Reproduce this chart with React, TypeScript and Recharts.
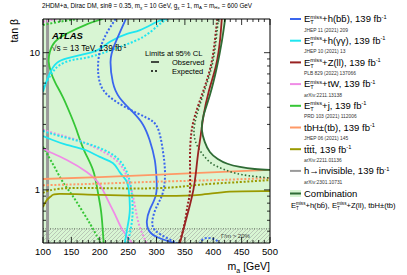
import React from 'react';
import { ComposedChart, Line, Area, XAxis, YAxis, CartesianGrid } from 'recharts';

// axis ranges (m_a in GeV, tan beta)
const mARange = [100, 500];
const tanBRange = [0.41, 17.6];

const xTicks = [
  100, 110, 120, 130, 140, 150, 160, 170, 180, 190, 200, 210, 220, 230, 240, 250, 260, 270, 280, 290,
  300, 310, 320, 330, 340, 350, 360, 370, 380, 390, 400, 410, 420, 430, 440, 450, 460, 470, 480, 490, 500,
];
const xLabels = [100, 150, 200, 250, 300, 350, 400, 450, 500];
const yTicks = [0.5, 0.6, 0.7, 0.8, 0.9, 1, 2, 3, 4, 5, 6, 7, 8, 9, 10];
const yLabels = [1, 10];

// E_T^miss + h(bb)
const hbbObs = [
  { x: 246, y: 17.6 }, { x: 226, y: 11.4 }, { x: 219, y: 8.6 }, { x: 223, y: 6.1 }, { x: 235, y: 4.7 },
  { x: 258, y: 3.7 }, { x: 276, y: 3.0 }, { x: 288, y: 2.3 }, { x: 297, y: 1.65 }, { x: 300, y: 1.22 },
  { x: 299, y: 0.92 }, { x: 288, y: 0.715 }, { x: 283, y: 0.59 }, { x: 286, y: 0.51 }, { x: 300, y: 0.455 },
  { x: 323, y: 0.42 }, { x: 334, y: 0.405 },
];
const hbbExp = [
  { x: 228, y: 17.6 }, { x: 205, y: 12 }, { x: 197, y: 8.1 }, { x: 200, y: 6.1 }, { x: 214, y: 4.9 },
  { x: 248, y: 3.95 }, { x: 283, y: 3.35 }, { x: 302, y: 2.83 }, { x: 311, y: 1.96 }, { x: 315, y: 1.33 },
  { x: 311, y: 0.95 }, { x: 300, y: 0.75 }, { x: 293, y: 0.605 }, { x: 297, y: 0.51 }, { x: 318, y: 0.447 },
  { x: 338, y: 0.405 },
];
const hbbExpLow = [
  { x: 376, y: 0.405 }, { x: 383, y: 0.44 }, { x: 394, y: 0.445 }, { x: 405, y: 0.43 }, { x: 412, y: 0.405 },
];

// E_T^miss + h(gamma gamma)
const hyyObsTop = [
  { x: 315, y: 17.6 }, { x: 301, y: 16.8 }, { x: 271, y: 14.6 }, { x: 248, y: 13.7 }, { x: 218, y: 12.0 },
  { x: 195, y: 10.4 }, { x: 165, y: 9.6 }, { x: 142, y: 9.1 }, { x: 124, y: 8.4 }, { x: 112, y: 7.1 },
  { x: 105, y: 6.0 }, { x: 100, y: 5.2 },
];
const hyyExpTop = [
  { x: 319, y: 17.6 }, { x: 302, y: 15.7 }, { x: 276, y: 13.0 }, { x: 230, y: 10.8 }, { x: 182, y: 9.3 },
  { x: 152, y: 8.85 }, { x: 129, y: 8.1 }, { x: 117, y: 7.2 }, { x: 108, y: 6.3 }, { x: 100, y: 5.5 },
];
const hyyObsLow = [
  { x: 100, y: 2.47 }, { x: 117, y: 2.31 }, { x: 142, y: 2.13 }, { x: 174, y: 1.96 }, { x: 200, y: 1.74 },
  { x: 223, y: 1.57 }, { x: 235, y: 1.35 }, { x: 246, y: 1.18 }, { x: 251, y: 1.0 }, { x: 253, y: 0.715 },
  { x: 249, y: 0.54 }, { x: 244, y: 0.405 },
];
const hyyExpLow = [
  { x: 100, y: 2.69 }, { x: 129, y: 2.47 }, { x: 174, y: 2.2 }, { x: 218, y: 1.86 }, { x: 241, y: 1.52 },
  { x: 251, y: 1.24 }, { x: 256, y: 0.97 }, { x: 258, y: 0.7 }, { x: 255, y: 0.53 }, { x: 249, y: 0.405 },
];

// E_T^miss + j
const monojetObs = [
  { x: 205, y: 17.6 }, { x: 174, y: 15.9 }, { x: 144, y: 13.9 }, { x: 121, y: 12.0 }, { x: 112, y: 10.1 },
  { x: 110, y: 8.6 }, { x: 114, y: 7.2 }, { x: 122, y: 6.0 }, { x: 135, y: 4.75 }, { x: 149, y: 3.5 },
  { x: 159, y: 2.74 }, { x: 172, y: 1.96 }, { x: 188, y: 1.4 }, { x: 196, y: 1.0 }, { x: 202, y: 0.715 },
  { x: 205, y: 0.53 }, { x: 207, y: 0.405 },
];
const monojetExpTop = [{ x: 100, y: 15.9 }, { x: 129, y: 16.8 }, { x: 161, y: 17.6 }];
const monojetExpLow = [
  { x: 100, y: 2.06 }, { x: 108, y: 1.8 }, { x: 121, y: 1.45 }, { x: 135, y: 1.14 }, { x: 151, y: 0.92 },
  { x: 168, y: 0.715 }, { x: 184, y: 0.556 }, { x: 195, y: 0.46 }, { x: 202, y: 0.405 },
];

// E_T^miss + tW
const tWObs = [
  { x: 100, y: 2.0 }, { x: 112, y: 1.89 }, { x: 142, y: 1.65 }, { x: 177, y: 1.35 }, { x: 200, y: 1.09 },
  { x: 214, y: 0.846 }, { x: 227, y: 0.66 }, { x: 239, y: 0.52 }, { x: 258, y: 0.405 },
];
const tWExpTop = [{ x: 100, y: 16.8 }, { x: 115, y: 17.3 }, { x: 126, y: 17.6 }];
const tWExpLow = [
  { x: 100, y: 2.74 }, { x: 129, y: 2.52 }, { x: 165, y: 2.27 }, { x: 200, y: 1.96 }, { x: 232, y: 1.6 },
  { x: 249, y: 1.22 }, { x: 258, y: 0.92 }, { x: 264, y: 0.69 }, { x: 271, y: 0.53 }, { x: 283, y: 0.405 },
];

// tbH+-(tb)
const tbHObs = [
  { x: 100, y: 1.2 }, { x: 200, y: 1.24 }, { x: 306, y: 1.29 }, { x: 376, y: 1.33 }, { x: 447, y: 1.37 },
  { x: 500, y: 1.4 },
];
const tbHExp = [{ x: 100, y: 1.08 }, { x: 200, y: 1.11 }, { x: 306, y: 1.15 }, { x: 412, y: 1.18 }, { x: 500, y: 1.22 }];

// four tops
const ttttObs = [
  { x: 100, y: 0.75 }, { x: 107, y: 0.846 }, { x: 115, y: 0.905 }, { x: 129, y: 0.935 }, { x: 200, y: 0.92 },
  { x: 306, y: 0.905 }, { x: 376, y: 0.92 }, { x: 429, y: 0.97 }, { x: 500, y: 0.98 },
];
const ttttExp = [
  { x: 100, y: 0.95 }, { x: 129, y: 1.02 }, { x: 200, y: 1.03 }, { x: 306, y: 1.03 }, { x: 376, y: 1.09 },
  { x: 447, y: 1.14 }, { x: 500, y: 1.18 },
];

// E_T^miss + Z(ll)
const zllObs = [
  { x: 415, y: 17.6 }, { x: 412, y: 12.4 }, { x: 405, y: 8.1 }, { x: 392, y: 5.2 }, { x: 383, y: 3.5 },
  { x: 378, y: 2.52 }, { x: 373, y: 1.8 }, { x: 369, y: 1.29 }, { x: 365, y: 1.0 }, { x: 359, y: 0.78 },
  { x: 352, y: 0.605 }, { x: 345, y: 0.47 }, { x: 341, y: 0.405 },
];
const zllExp = [
  { x: 407, y: 17.6 }, { x: 403, y: 12.4 }, { x: 396, y: 8.1 }, { x: 382, y: 5.2 }, { x: 368, y: 3.5 },
  { x: 361, y: 2.52 }, { x: 359, y: 1.65 }, { x: 359, y: 1.0 }, { x: 355, y: 0.78 }, { x: 350, y: 0.585 },
  { x: 343, y: 0.447 }, { x: 339, y: 0.405 },
];

// combination
const combObs = [
  { x: 421, y: 17.6 }, { x: 415, y: 12 }, { x: 406, y: 7.7 }, { x: 394, y: 4.9 }, { x: 383, y: 3.5 },
  { x: 380, y: 2.74 }, { x: 385, y: 2.24 }, { x: 394, y: 1.89 }, { x: 408, y: 1.68 }, { x: 425, y: 1.55 },
  { x: 447, y: 1.47 }, { x: 473, y: 1.42 }, { x: 500, y: 1.4 },
];
const combExp = [
  { x: 409, y: 17.6 }, { x: 405, y: 12.4 }, { x: 398, y: 8.1 }, { x: 384, y: 5.2 }, { x: 371, y: 3.5 },
  { x: 366, y: 2.65 }, { x: 371, y: 2.13 }, { x: 382, y: 1.8 }, { x: 398, y: 1.55 }, { x: 421, y: 1.4 },
  { x: 451, y: 1.29 }, { x: 500, y: 1.22 },
];

// h -> invisible (m_a independent) and the width > 20% band
const hInv = [{ x: 108, y: 0.41 }, { x: 108, y: 17.6 }];
const widthLimit = [{ x: 100, y: 0.52 }, { x: 500, y: 0.52 }];

const legendItems = [
  { met: true, proc: '+h(bb\u0304)', ref: 'JHEP 11 (2021) 209', color: '#3a66ee' },
  { met: true, proc: '+h(\u03b3\u03b3)', ref: 'JHEP 10 (2021) 13', color: '#1fe6f0' },
  { met: true, proc: '+Z(ll)', ref: 'PLB 829 (2022) 137066', color: '#982222' },
  { met: true, proc: '+tW', ref: 'arXiv:2211.13138', color: '#f08ce6' },
  { met: true, proc: '+j', ref: 'PRD 103 (2021) 112006', color: '#36c636' },
  { met: false, proc: 'tbH\u00b1(tb)', ref: 'JHEP 06 (2021) 145', color: '#ff9966' },
  { met: false, proc: 'tt\u0304tt\u0304', ref: 'arXiv:2211.01136', color: '#9a9a00' },
  { met: false, proc: 'h\u2192invisible', ref: 'arXiv:2301.10731', color: '#9a9a9a' },
];

const FONT = '"Liberation Sans", Arial, Helvetica, sans-serif';
const C = {
  hbb: '#3a66ee', hyy: '#1fe6f0', zll: '#982222', tW: '#f08ce6', mj: '#36c636',
  tbH: '#ff9966', tttt: '#9a9a00', inv: '#9a9a9a', comb: '#2f6b35', fill: '#d8f5d3',
};
const DASH = '2 1.8';

const BottomTick = (p: any) => {
  const v = p.payload.value;
  const major = xLabels.includes(v);
  return (
    <g>
      <line x1={p.x} x2={p.x} y1={p.y} y2={p.y - (major ? 6 : 3)} stroke="#000" strokeWidth={0.8} />
      {major && (
        <text x={p.x} y={p.y + 12} textAnchor="middle" fontSize={9.5} fill="#000" fontFamily={FONT}>{v}</text>
      )}
    </g>
  );
};
const TopTick = (p: any) => {
  const major = xLabels.includes(p.payload.value);
  return <line x1={p.x} x2={p.x} y1={p.y} y2={p.y + (major ? 6 : 3)} stroke="#000" strokeWidth={0.8} />;
};
const LeftTick = (p: any) => {
  const v = p.payload.value;
  const major = yLabels.includes(v);
  return (
    <g>
      <line x1={p.x} x2={p.x + (major ? 6 : 3)} y1={p.y} y2={p.y} stroke="#000" strokeWidth={0.8} />
      {major && (
        <text x={p.x - 3} y={p.y + 3.4} textAnchor="end" fontSize={9.5} fill="#000" fontFamily={FONT}>{v}</text>
      )}
    </g>
  );
};
const RightTick = (p: any) => {
  const major = yLabels.includes(p.payload.value);
  return <line x1={p.x} x2={p.x - (major ? 6 : 3)} y1={p.y} y2={p.y} stroke="#000" strokeWidth={0.8} />;
};

function MetText({ x, y, fs, rest, fb }: { x: number; y: number; fs: number; rest: string; fb?: boolean }) {
  const s = fs * 0.6;
  const ex = x + fs * 0.667;
  return (
    <g>
      <text x={x} y={y} fontSize={fs}>E</text>
      <text x={ex} y={y - fs * 0.4} fontSize={s}>miss</text>
      <text x={ex} y={y + fs * 0.22} fontSize={s}>T</text>
      <text x={ex + s * 2.06} y={y} fontSize={fs}>
        {rest}
        {fb && <tspan>, 139 fb</tspan>}
        {fb && <tspan dy={-fs * 0.38} fontSize={s}>-1</tspan>}
      </text>
    </g>
  );
}

const lineProps = { dot: false, activeDot: false, isAnimationActive: false, dataKey: 'y', type: 'natural' as const };
const axisLine = { stroke: '#000', strokeWidth: 1 };

export default function App() {
  return (
    <div style={{ position: 'absolute', left: 0, top: 0, width: 407, height: 275, background: '#fff', fontFamily: FONT }}>
      <ComposedChart width={407} height={275} margin={{ top: 18, right: 136, bottom: 0, left: 0 }}>
        <CartesianGrid horizontal={false} vertical={false} fill={C.fill} fillOpacity={1} />
        <XAxis type="number" dataKey="x" domain={mARange} ticks={xTicks} interval={0} allowDataOverflow
          height={32} tickSize={0} tickMargin={0} tickLine={false} axisLine={axisLine} tick={BottomTick} />
        <XAxis xAxisId="top" orientation="top" type="number" dataKey="x" domain={mARange} ticks={xTicks} interval={0}
          allowDataOverflow height={1} tickSize={0} tickMargin={0} tickLine={false} axisLine={axisLine} tick={TopTick} />
        <YAxis type="number" scale="log" domain={tanBRange} ticks={yTicks} interval={0} allowDataOverflow
          width={43} tickSize={0} tickMargin={0} tickLine={false} axisLine={axisLine} tick={LeftTick} />
        <YAxis yAxisId="right" orientation="right" type="number" scale="log" domain={tanBRange} ticks={yTicks} interval={0}
          allowDataOverflow width={1} tickSize={0} tickMargin={0} tickLine={false} axisLine={axisLine} tick={RightTick} />

        {/* allowed region (white) above the combined observed contour */}
        <Area data={combObs} dataKey="y" type="natural" baseValue={tanBRange[1]} fill="#ffffff" fillOpacity={1}
          stroke="none" dot={false} activeDot={false} isAnimationActive={false} />
        {/* Gamma/m > 20% band */}
        <Area data={widthLimit} dataKey="y" type="linear" baseValue={tanBRange[0]} fill="url(#hatch)" fillOpacity={1}
          stroke="#000" strokeWidth={0.7} strokeDasharray="0.8 1.6" dot={false} activeDot={false} isAnimationActive={false} />

        <Line {...lineProps} data={hInv} type="linear" stroke={C.inv} strokeWidth={3} />

        <Line {...lineProps} data={monojetExpTop} stroke={C.mj} strokeWidth={2} strokeDasharray={DASH} />
        <Line {...lineProps} data={monojetExpLow} stroke={C.mj} strokeWidth={2} strokeDasharray={DASH} />
        <Line {...lineProps} data={monojetObs} stroke={C.mj} strokeWidth={1.8} />

        <Line {...lineProps} data={tWExpTop} stroke={C.tW} strokeWidth={2} strokeDasharray={DASH} />
        <Line {...lineProps} data={tWExpLow} stroke={C.tW} strokeWidth={2} strokeDasharray={DASH} />
        <Line {...lineProps} data={tWObs} stroke={C.tW} strokeWidth={1.8} />

        <Line {...lineProps} data={hyyExpTop} stroke={C.hyy} strokeWidth={2} strokeDasharray={DASH} />
        <Line {...lineProps} data={hyyExpLow} stroke={C.hyy} strokeWidth={2} strokeDasharray={DASH} />
        <Line {...lineProps} data={hyyObsTop} stroke={C.hyy} strokeWidth={1.8} />
        <Line {...lineProps} data={hyyObsLow} stroke={C.hyy} strokeWidth={1.8} />

        <Line {...lineProps} data={hbbExp} stroke={C.hbb} strokeWidth={2} strokeDasharray={DASH} />
        <Line {...lineProps} data={hbbExpLow} stroke={C.hbb} strokeWidth={2} strokeDasharray={DASH} />
        <Line {...lineProps} data={hbbObs} stroke={C.hbb} strokeWidth={1.8} />

        <Line {...lineProps} data={tbHExp} type="linear" stroke={C.tbH} strokeWidth={2} strokeDasharray={DASH} />
        <Line {...lineProps} data={tbHObs} type="linear" stroke={C.tbH} strokeWidth={1.8} />
        <Line {...lineProps} data={ttttExp} stroke={C.tttt} strokeWidth={2} strokeDasharray={DASH} />
        <Line {...lineProps} data={ttttObs} stroke={C.tttt} strokeWidth={1.8} />

        <Line {...lineProps} data={zllExp} stroke={C.zll} strokeWidth={2} strokeDasharray={DASH} />
        <Line {...lineProps} data={combExp} stroke={C.comb} strokeWidth={1.6} strokeDasharray="1.5 2.2" />
        <Line {...lineProps} data={zllObs} stroke={C.zll} strokeWidth={1.8} />
        <Line {...lineProps} data={combObs} stroke={C.comb} strokeWidth={1.8} />
      </ComposedChart>

      <svg width={407} height={275} style={{ position: 'absolute', left: 0, top: 0, pointerEvents: 'none' }}
        fontFamily={FONT} fill="#000">
        <defs>
          <pattern id="hatch" patternUnits="userSpaceOnUse" width={4} height={4}>
            <path d="M-1,1 L1,-1 M0,4 L4,0 M3,5 L5,3" stroke="#9a9a9a" strokeWidth={0.5} />
          </pattern>
        </defs>

        <text x={42} y={7.5} fontSize={6.3}>
          2HDM+a, Dirac DM, sinθ = 0.35, m<tspan dy={1.5} fontSize={4.4}>χ</tspan>
          <tspan dy={-1.5}> = 10 GeV, g</tspan><tspan dy={1.5} fontSize={4.4}>χ</tspan>
          <tspan dy={-1.5}> = 1, m</tspan><tspan dy={1.5} fontSize={4.4}>A</tspan>
          <tspan dy={-1.5}> = m</tspan><tspan dy={1.5} fontSize={4.4}>H±</tspan>
          <tspan dy={-1.5}> = 600 GeV</tspan>
        </text>

        <text transform="translate(17.5,19) rotate(-90)" textAnchor="end" fontSize={10.5}>tan β</text>
        <text x={270} y={270} textAnchor="end" fontSize={10.5}>
          m<tspan dy={2.5} fontSize={7}>a</tspan><tspan dy={-2.5}> [GeV]</tspan>
        </text>

        <text x={52} y={38.5} fontSize={9.5} fontWeight="bold" fontStyle="italic">ATLAS</text>
        <text x={52} y={50.5} fontSize={8.2}>
          √s = 13 TeV, 139 fb<tspan dy={-3} fontSize={5}>-1</tspan>
        </text>

        <text x={145} y={55.5} fontSize={7.6}>Limits at 95% CL</text>
        <line x1={151} x2={159} y1={62} y2={62} stroke="#000" strokeWidth={1.4} />
        <text x={172} y={64.6} fontSize={7.5}>Observed</text>
        <line x1={151} x2={159} y1={71} y2={71} stroke="#000" strokeWidth={1.4} strokeDasharray="2 2" />
        <text x={172} y={73.6} fontSize={7.5}>Expected</text>

        <text x={221} y={237.5} fontSize={6} fill="#333">Γ/m &gt; 20%</text>

        {legendItems.map((it, i) => {
          const cy = 19 + i * 21.7;
          return (
            <g key={it.ref}>
              <line x1={290} x2={301} y1={cy} y2={cy} stroke={it.color} strokeWidth={2} />
              {it.met ? (
                <MetText x={304} y={cy + 3.3} fs={9.5} rest={it.proc} fb />
              ) : (
                <text x={304} y={cy + 3.3} fontSize={9.5}>
                  {it.proc}, 139 fb<tspan dy={-3.6} fontSize={5.7}>-1</tspan>
                </text>
              )}
              <text x={304} y={cy + 12.6} fontSize={4.9} fill="#333">{it.ref}</text>
            </g>
          );
        })}
        <rect x={290} y={190} width={11} height={7} fill={C.fill} />
        <line x1={290} x2={301} y1={193.5} y2={193.5} stroke={C.comb} strokeWidth={2} />
        <text x={304} y={196.8} fontSize={9.5}>Combination</text>
        <MetText x={291} y={208} fs={7.6} rest={'+h(bb\u0304), '} />
        <MetText x={332} y={208} fs={7.6} rest={'+Z(ll), tbH\u00b1(tb)'} />
      </svg>
    </div>
  );
}
